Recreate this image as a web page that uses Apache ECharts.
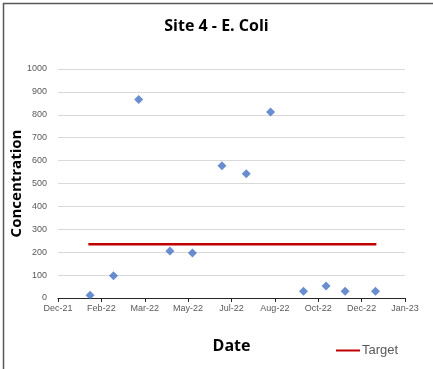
<!DOCTYPE html>
<html>
<head>
<meta charset="utf-8">
<script src="https://cdn.jsdelivr.net/npm/echarts@6/dist/echarts.min.js"></script>
<style>html,body{margin:0;padding:0;background:#fff}#c{width:433px;height:369px}</style>
</head>
<body>
<div id="c"></div>
<script>
// ---- data ----
var axisStart = '2021-12-20';          // first x tick (day 0)
var tickDays = 50;                     // days between x ticks
var xTickLabels = ['Dec-21','Feb-22','Mar-22','May-22','Jul-22','Aug-22','Oct-22','Dec-22','Jan-23'];
var sampleDates = ['2022-01-26','2022-02-22','2022-03-23','2022-04-28','2022-05-24','2022-06-27',
                   '2022-07-25','2022-08-22','2022-09-29','2022-10-25','2022-11-16','2022-12-21'];
var concentration = [12, 97, 867, 205, 196, 578, 543, 812, 29, 52, 29, 29];
var targetDates = ['2022-01-24','2022-12-22'];
var targetValues = [235, 235];
var yTicks = [0,100,200,300,400,500,600,700,800,900,1000];

function dayOf(s){ return (Date.parse(s) - Date.parse(axisStart)) / 86400000; }

var chart = echarts.init(document.getElementById('c'), null, {renderer:'canvas'});
chart.setOption({
  animation:false,
  backgroundColor:'#fff',
  title:{text:'Site 4 - E. Coli', left:'center', top:13,
    textStyle:{fontFamily:'"Open Sans", "DejaVu Sans", sans-serif', fontSize:16, fontWeight:'bold', color:'#000'}},
  graphic:[
    {type:'line', shape:{x1:3,y1:3.5,x2:433,y2:3.5}, style:{stroke:'#595959', lineWidth:1.5}},
    {type:'line', shape:{x1:3.5,y1:3,x2:3.5,y2:369}, style:{stroke:'#595959', lineWidth:1.5}}
  ],
  legend:{data:[{name:'Target', icon:'rect'}], left:331, top:339, itemWidth:24, itemHeight:2, itemGap:2,
    textStyle:{color:'#595959', fontSize:13, fontFamily:'"Liberation Sans", sans-serif', padding:[0,0,0,-3]}},
  grid:{left:58, right:28, top:69, bottom:71, containLabel:false, outerBoundsMode:'none'},
  xAxis:{type:'value', min:0, max:tickDays*(xTickLabels.length-1), interval:tickDays,
    name:'Date', nameLocation:'middle', nameGap:40, nameMoveOverlap:false,
    nameTextStyle:{fontFamily:'"Open Sans", "DejaVu Sans", sans-serif', fontSize:16, fontWeight:'bold', color:'#000', padding:[0,0,0,0]},
    axisLine:{show:true, lineStyle:{color:'#262626', width:1}},
    axisTick:{show:true, length:4, lineStyle:{color:'#262626'}},
    splitLine:{show:false},
    axisLabel:{color:'#595959', fontSize:9, fontFamily:'"Liberation Sans", sans-serif', margin:6,
      formatter:function(v){ return xTickLabels[Math.round(v/tickDays)] || ''; }}},
  yAxis:{type:'value', min:yTicks[0], max:yTicks[yTicks.length-1], interval:yTicks[1]-yTicks[0],
    name:'Concentration', nameLocation:'middle', nameGap:34, nameMoveOverlap:false,
    nameTextStyle:{fontFamily:'"Open Sans", "DejaVu Sans", sans-serif', fontSize:15, fontWeight:'bold', color:'#000'},
    axisLine:{show:false}, axisTick:{show:false},
    splitLine:{lineStyle:{color:'#d9d9d9', width:1}},
    axisLabel:{color:'#595959', fontSize:9, fontFamily:'"Liberation Sans", sans-serif', margin:11,
      formatter:function(v){ return String(v); }}},
  series:[
    {name:'Concentration', type:'scatter', symbol:'diamond', symbolSize:9,
     itemStyle:{color:'#4472C4'},
     data:sampleDates.map(function(d,i){ return [dayOf(d), concentration[i]]; })},
    {name:'Target', type:'line', symbol:'none', lineStyle:{color:'#C00000', width:2.5},
     itemStyle:{color:'#C00000'},
     data:targetDates.map(function(d,i){ return [dayOf(d), targetValues[i]]; })}
  ]
});
</script>
</body>
</html>
